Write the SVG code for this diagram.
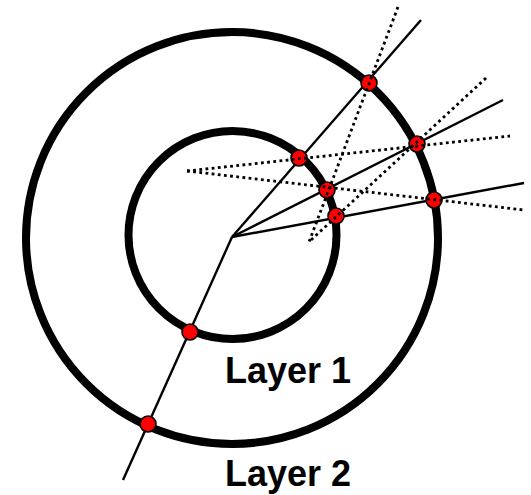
<svg xmlns="http://www.w3.org/2000/svg" width="531" height="495" viewBox="0 0 531 495">
<style>
.ring{fill:none;stroke:#000;stroke-width:8}
.ray{fill:none;stroke:#000;stroke-width:2.4}
.dot{fill:none;stroke:#000;stroke-width:2.8;stroke-dasharray:2.8 3.4}
.pt{fill:#f00;stroke:#000;stroke-width:1.600}
.lbl{font-family:"Liberation Sans",Arial,sans-serif;font-weight:bold;font-size:36px;fill:#000}
</style>
<rect width="531" height="495" fill="#fff"/>
<g id="layer-2-ring"><circle class="ring" cx="232" cy="238" r="206"/></g>
<g id="layer-1-ring"><circle class="ring" cx="232.500" cy="235" r="104"/></g>
<g id="connectors">
<path class="ray" d="M232 237L421 20"/>
<path class="ray" d="M232 237L503 100"/>
<path class="ray" d="M232 237L524 183"/>
<path class="ray" d="M232 237L123 480"/>
</g>
<g id="p1"><circle class="pt" cx="369" cy="83" r="8"/></g>
<g id="p2"><circle class="pt" cx="417" cy="144" r="8"/></g>
<g id="p3"><circle class="pt" cx="434" cy="200" r="8"/></g>
<g id="p4"><circle class="pt" cx="299" cy="158" r="8"/></g>
<g id="p5"><circle class="pt" cx="327" cy="190" r="8"/></g>
<g id="p6"><circle class="pt" cx="336" cy="216" r="8"/></g>
<g id="p7"><circle class="pt" cx="190" cy="332" r="8"/></g>
<g id="p8"><circle class="pt" cx="148" cy="424" r="8"/></g>
<g id="dotted-connectors">
<path class="dot" d="M398 7L309 242"/>
<path class="dot" d="M486 78L311 240"/>
<path class="dot" d="M187 171L510 136"/>
<path class="dot" d="M187 171L524 210"/>
</g>
<g id="label-1"><text class="lbl" x="225" y="383">Layer 1</text></g>
<g id="label-2"><text class="lbl" x="225" y="486">Layer 2</text></g>
</svg>
